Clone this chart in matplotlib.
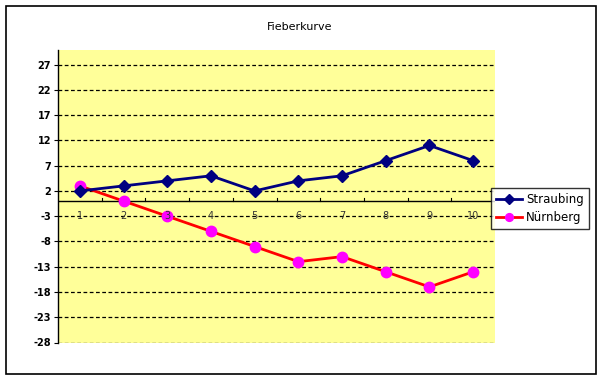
import matplotlib
matplotlib.use('Agg')
import matplotlib.pyplot as plt
from matplotlib.patches import Rectangle

# Daten
tage = [1, 2, 3, 4, 5, 6, 7, 8, 9, 10]
straubing = [2, 3, 4, 5, 2, 4, 5, 8, 11, 8]
nuernberg = [3, 0, -3, -6, -9, -12, -11, -14, -17, -14]
y_ticks = [27, 22, 17, 12, 7, 2, -3, -8, -13, -18, -23, -28]

fig = plt.figure(figsize=(6.01, 3.79), dpi=100)
W, H = 601, 379
# Rahmen um das ganze Diagramm
fig.patches.append(Rectangle((5.5 / W, 1 - 374 / H), 590 / W, 368.5 / H,
                             transform=fig.transFigure, fill=False,
                             edgecolor='black', linewidth=1.2))

ax = fig.add_axes([58 / W, 1 - 342.5 / H, 437 / W, 293 / H])
ax.set_facecolor('#FFFF99')
ax.set_xlim(0.5, 10.5)
ax.set_ylim(-28, 30)

for y in y_ticks:
    ax.axhline(y, color='black', linestyle=(0, (3, 2)), linewidth=0.9, zorder=1)
ax.axhline(0, color='black', linewidth=1.0, zorder=2)

ax.plot(tage, straubing, color='#000080', linewidth=2, marker='D',
        markersize=6.5, markerfacecolor='#000080', markeredgecolor='#000080',
        label='Straubing', zorder=4)
ax.plot(tage, nuernberg, color='#FF0000', linewidth=2, marker='o',
        markersize=7.5, markerfacecolor='#FF00FF', markeredgecolor='#FF00FF',
        label='Nürnberg', zorder=3)

# Kategorie-Beschriftungen an der Achse bei y=0
for t in tage:
    ax.text(t, -3, str(t), ha='center', va='center', fontsize=7,
            color='#333333', zorder=5)
for xb in [t + 0.5 for t in tage[:-1]]:
    ax.plot([xb, xb], [0, 0.6], color='black', linewidth=0.8, zorder=2)
ax.set_xticks([])

ax.set_yticks(y_ticks)
ax.set_yticklabels([str(v) for v in y_ticks], fontsize=7, fontweight='bold')
ax.tick_params(axis='y', length=3, width=0.8, pad=2)
for s in ['top', 'right', 'bottom']:
    ax.spines[s].set_visible(False)
ax.spines['left'].set_linewidth(1.0)

fig.text(300 / W, 1 - 27 / H, 'Fieberkurve', ha='center', va='center',
         fontsize=8)

leg = fig.legend(loc='center', bbox_to_anchor=(540 / W, 1 - 208.5 / H),
                 fontsize=8.5, frameon=True, fancybox=False,
                 edgecolor='black', borderpad=0.45, handlelength=2.2,
                 handletextpad=0.3, labelspacing=0.45, borderaxespad=0,
                 markerscale=0.75)
leg.get_frame().set_linewidth(1.0)

fig.savefig('out.png', dpi=100)
